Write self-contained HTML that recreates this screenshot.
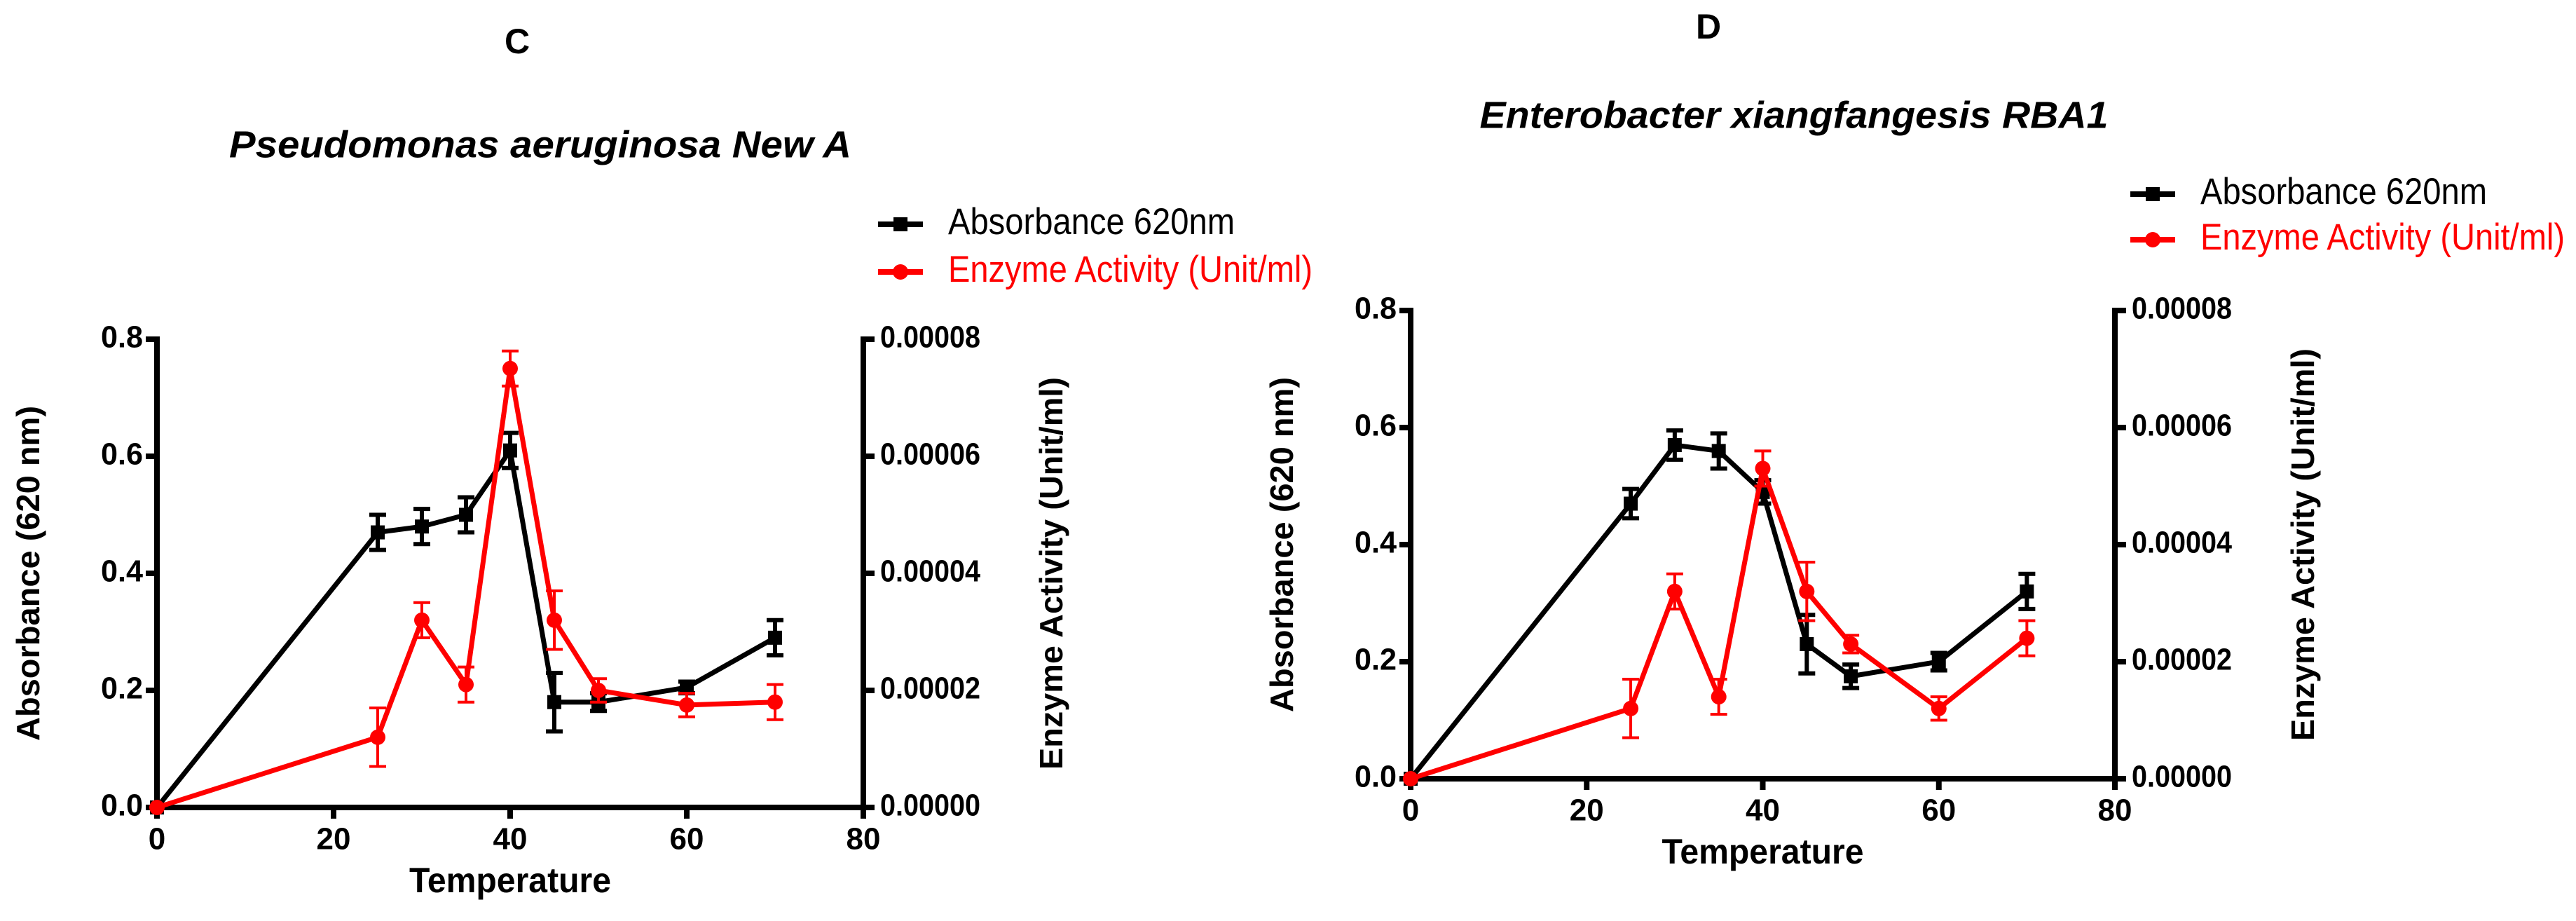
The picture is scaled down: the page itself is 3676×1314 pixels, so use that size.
<!DOCTYPE html>
<html><head><meta charset="utf-8">
<style>
html,body{margin:0;padding:0;background:#fff;}
svg{display:block;font-family:"Liberation Sans",Arial,sans-serif;}
</style></head>
<body>
<svg id="fig" width="3676" height="1314" viewBox="0 0 3676 1314" xmlns="http://www.w3.org/2000/svg"></svg>
<script>
// ---- data ----
const temps = [0, 25, 30, 35, 40, 45, 50, 60, 70];
const absC = [0, 0.47, 0.48, 0.50, 0.61, 0.18, 0.18, 0.205, 0.29];
const absCErr = [0, 0.03, 0.03, 0.03, 0.03, 0.05, 0.015, 0.01, 0.03];
const enzC = [0, 1.2e-5, 3.2e-5, 2.1e-5, 7.5e-5, 3.2e-5, 2.0e-5, 1.75e-5, 1.8e-5];
const enzCErr = [0, 0.5e-5, 0.3e-5, 0.3e-5, 0.3e-5, 0.5e-5, 0.2e-5, 0.2e-5, 0.3e-5];
const absD = [0, 0.47, 0.57, 0.56, 0.49, 0.23, 0.175, 0.20, 0.32];
const absDErr = [0, 0.025, 0.025, 0.03, 0.02, 0.05, 0.02, 0.015, 0.03];
const enzD = [0, 1.2e-5, 3.2e-5, 1.4e-5, 5.3e-5, 3.2e-5, 2.3e-5, 1.2e-5, 2.4e-5];
const enzDErr = [0, 0.5e-5, 0.3e-5, 0.3e-5, 0.3e-5, 0.5e-5, 0.15e-5, 0.2e-5, 0.3e-5];
const xTicks = [0, 20, 40, 60, 80];
const yLeftTicks = [0, 0.2, 0.4, 0.6, 0.8];
const yLeftLabels = ["0.0", "0.2", "0.4", "0.6", "0.8"];
const yRightTicks = [0, 2e-5, 4e-5, 6e-5, 8e-5];
const yRightLabels = ["0.00000", "0.00002", "0.00004", "0.00006", "0.00008"];

const NS = "http://www.w3.org/2000/svg";
const svg = document.getElementById('fig');
function mk(tag, attrs, parent, text) {
  const e = document.createElementNS(NS, tag);
  for (const k in attrs) e.setAttribute(k, attrs[k]);
  if (text !== undefined) e.textContent = text;
  (parent || svg).appendChild(e);
  return e;
}

function chart(cfg) {
  const g = mk('g', {});
  
  
  const X = v => cfg.x0 + (v / 80) * (cfg.x1 - cfg.x0);
  const YL = v => cfg.y0 - (v / 0.8) * (cfg.y0 - cfg.y1);
  const YR = v => cfg.y0 - (v / 8e-5) * (cfg.y0 - cfg.y1);

  let t = mk('text', {x: cfg.letterX, y: cfg.letterY, 'font-size': 50, 'font-weight': 'bold', 'text-anchor': 'middle', 'dominant-baseline': 'middle'}, g, cfg.letter);
  
  
  t = mk('text', {x: cfg.titleX, y: cfg.titleY, 'font-size': 54, 'font-weight': 'bold', 'font-style': 'italic', 'text-anchor': 'middle', 'dominant-baseline': 'middle', textLength: cfg.titleW, lengthAdjust: 'spacingAndGlyphs'}, g, cfg.title);
  
  

  // legend
  const lg = mk('g', {}, g);
  
  
  const items = [['Absorbance 620nm', '#000', cfg.legY1, 409, 'sq'], ['Enzyme Activity (Unit/ml)', '#f00', cfg.legY2, 520, 'ci']];
  items.forEach(it => {
    const e = mk('g', {}, lg);
    
    
    mk('line', {x1: cfg.legX, x2: cfg.legX + 64, y1: it[2], y2: it[2], stroke: it[1], 'stroke-width': 8}, e);
    if (it[4] === 'sq') mk('rect', {x: cfg.legX + 22, y: it[2] - 10, width: 20, height: 20, fill: it[1]}, e);
    else mk('circle', {cx: cfg.legX + 32, cy: it[2], r: 11, fill: it[1]}, e);
    mk('text', {x: cfg.legX + 100, y: it[2], 'font-size': 53, fill: it[1], 'dominant-baseline': 'middle', textLength: it[3], lengthAdjust: 'spacingAndGlyphs'}, e, it[0]);
  });

  // axes
  const ax = mk('g', {stroke: '#000', 'stroke-width': 8, fill: 'none'}, g);
  
  
  mk('line', {x1: cfg.x0, x2: cfg.x0, y1: cfg.y1 - 4, y2: cfg.y0 + 4}, ax);
  mk('line', {x1: cfg.x1, x2: cfg.x1, y1: cfg.y1 - 4, y2: cfg.y0 + 4}, ax);
  mk('line', {x1: cfg.x0 - 4, x2: cfg.x1 + 4, y1: cfg.y0, y2: cfg.y0}, ax);

  xTicks.forEach(v => {
    mk('line', {x1: X(v), x2: X(v), y1: cfg.y0, y2: cfg.y0 + 16}, ax);
    const tt = mk('text', {x: X(v), y: cfg.y0 + 48, 'font-size': 44, 'font-weight': 'bold', 'text-anchor': 'middle', 'dominant-baseline': 'middle'}, g, String(v));
    
    
  });
  yLeftTicks.forEach((v, i) => {
    mk('line', {x1: cfg.x0 - 16, x2: cfg.x0, y1: YL(v), y2: YL(v)}, ax);
    const tt = mk('text', {x: cfg.x0 - 20, y: YL(v), 'font-size': 44, 'font-weight': 'bold', 'text-anchor': 'end', 'dominant-baseline': 'middle', textLength: 60, lengthAdjust: 'spacingAndGlyphs'}, g, yLeftLabels[i]);
    
    
  });
  yRightTicks.forEach((v, i) => {
    mk('line', {x1: cfg.x1, x2: cfg.x1 + 16, y1: YR(v), y2: YR(v)}, ax);
    const tt = mk('text', {x: cfg.x1 + 24, y: YR(v), 'font-size': 44, 'font-weight': 'bold', 'dominant-baseline': 'middle', textLength: 143, lengthAdjust: 'spacingAndGlyphs'}, g, yRightLabels[i]);
    
    
  });

  t = mk('text', {x: (cfg.x0 + cfg.x1) / 2, y: cfg.y0 + 108, 'font-size': 50, 'font-weight': 'bold', 'text-anchor': 'middle', 'dominant-baseline': 'middle', textLength: 288, lengthAdjust: 'spacingAndGlyphs'}, g, 'Temperature');
  
  
  const ly = (cfg.y0 + cfg.y1) / 2 + 0;
  t = mk('text', {x: 0, y: 0, transform: `translate(${cfg.x0 - 180},${ly}) rotate(-90)`, 'font-size': 46, 'font-weight': 'bold', 'text-anchor': 'middle', 'dominant-baseline': 'middle', textLength: 478, lengthAdjust: 'spacingAndGlyphs'}, g, 'Absorbance (620 nm)');
  
  
  t = mk('text', {x: 0, y: 0, transform: `translate(${cfg.x1 + 272},${ly}) rotate(-90)`, 'font-size': 46, 'font-weight': 'bold', 'text-anchor': 'middle', 'dominant-baseline': 'middle', textLength: 560, lengthAdjust: 'spacingAndGlyphs'}, g, 'Enzyme Activity (Unit/ml)');
  
  

  function series(vals, errs, Y, color, shape, name, lw, ew) {
    const s = mk('g', {}, g);
    
    
    const pts = temps.map((tv, i) => X(tv) + ',' + Y(vals[i])).join(' ');
    mk('polyline', {points: pts, fill: 'none', stroke: color, 'stroke-width': lw, 'stroke-linejoin': 'miter'}, s);
    temps.forEach((tv, i) => {
      const cx = X(tv), v = vals[i], e = errs[i];
      if (e > 0) {
        const eb = mk('path', {d: `M${cx},${Y(v + e)}V${Y(v - e)}M${cx - 12},${Y(v + e)}H${cx + 12}M${cx - 12},${Y(v - e)}H${cx + 12}`, stroke: color, 'stroke-width': ew, fill: 'none'}, s);
        
        
      }
      let m;
      if (shape === 'sq') m = mk('rect', {x: cx - 10, y: Y(v) - 10, width: 20, height: 20, fill: color}, s);
      else m = mk('circle', {cx: cx, cy: Y(v), r: 11, fill: color}, s);
      
      
    });
  }
  series(cfg.abs, cfg.absErr, YL, '#000', 'sq', 'absorbance-series', 7, 6);
  series(cfg.enz, cfg.enzErr, YR, '#f00', 'ci', 'enzyme-series', 7, 4);
}

chart({name: 'chart-c', letter: 'C', letterX: 738, letterY: 63, title: 'Pseudomonas aeruginosa New A', titleX: 771, titleY: 210, titleW: 888,
  legX: 1253, legY1: 320, legY2: 388,
  x0: 224, x1: 1232, y0: 1152, y1: 484, abs: absC, absErr: absCErr, enz: enzC, enzErr: enzCErr});
chart({name: 'chart-d', letter: 'D', letterX: 2438, letterY: 42, title: 'Enterobacter xiangfangesis RBA1', titleX: 2560, titleY: 168, titleW: 897,
  legX: 3040, legY1: 277, legY2: 342,
  x0: 2013, x1: 3018, y0: 1111, y1: 443, abs: absD, absErr: absDErr, enz: enzD, enzErr: enzDErr});
</script>
</body></html>
